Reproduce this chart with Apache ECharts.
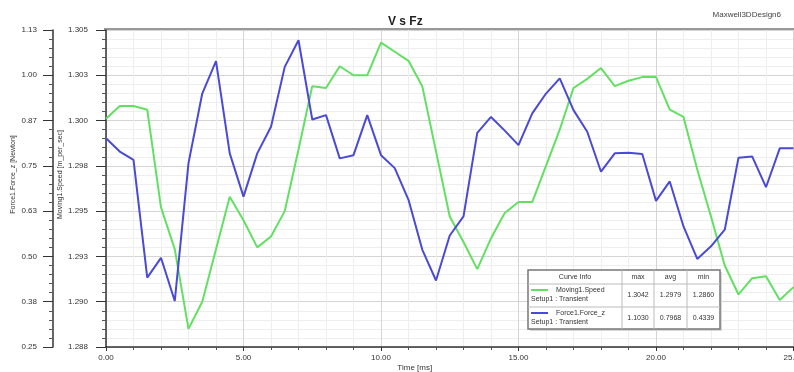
<!DOCTYPE html>
<html>
<head>
<meta charset="utf-8">
<script src="https://cdn.jsdelivr.net/npm/echarts@6/dist/echarts.min.js"></script>
<style>
  html, body { margin: 0; padding: 0; background: #fff; }
  #chart { width: 794px; height: 372px; }
</style>
</head>
<body>
<div id="chart"></div>
<script>
// time samples [ms]
var times = [0, 0.5, 1, 1.5, 2, 2.5, 3, 3.5, 4, 4.5, 5, 5.5, 6, 6.5, 7, 7.5, 8, 8.5, 9, 9.5,
    10, 10.5, 11, 11.5, 12, 12.5, 13, 13.5, 14, 14.5, 15, 15.5, 16, 16.5, 17, 17.5, 18, 18.5, 19, 19.5,
    20, 20.5, 21, 21.5, 22, 22.5, 23, 23.5, 24, 24.5, 25];

// Moving1.Speed [m_per_sec]
var speedValues = [1.3001, 1.3008, 1.3008, 1.3006, 1.2952, 1.2929, 1.2885, 1.2900, 1.2929, 1.2958,
    1.2945, 1.2930, 1.2936, 1.2950, 1.2984, 1.3019, 1.3018, 1.3030, 1.3025, 1.3025,
    1.3043, 1.3038, 1.3033, 1.3019, 1.2983, 1.2947, 1.2933, 1.2918, 1.2935, 1.2949,
    1.2955, 1.2955, 1.2975, 1.2995, 1.3018, 1.3023, 1.3029, 1.3019, 1.3022, 1.3024,
    1.3024, 1.3006, 1.3002, 1.2973, 1.2947, 1.2920, 1.2904, 1.2913, 1.2914, 1.2901, 1.2908];

// Force1.Force_z [Newton]
var forceValues = [0.831, 0.794, 0.771, 0.444, 0.499, 0.379, 0.762, 0.955, 1.045, 0.789,
    0.669, 0.789, 0.863, 1.029, 1.103, 0.883, 0.895, 0.775, 0.784, 0.895,
    0.784, 0.748, 0.660, 0.522, 0.436, 0.561, 0.614, 0.846, 0.890, 0.852,
    0.812, 0.900, 0.955, 0.997, 0.909, 0.849, 0.738, 0.789, 0.791, 0.787,
    0.657, 0.711, 0.586, 0.496, 0.531, 0.577, 0.777, 0.780, 0.695, 0.803, 0.803];

// tick labels as printed on the two y axes
var speedTickLabels = ['1.288', '1.290', '1.293', '1.295', '1.298', '1.300', '1.303', '1.305'];
var forceTickLabels = ['0.25', '0.38', '0.50', '0.63', '0.75', '0.87', '1.00', '1.13'];

// curve info table
var curveNames = ['Moving1.Speed', 'Force1.Force_z'];
var curveSetups = ['Setup1 : Transient', 'Setup1 : Transient'];
var curveMax = ['1.3042', '1.1030'];
var curveAvg = ['1.2979', '0.7968'];
var curveMin = ['1.2860', '0.4339'];
var curveColors = ['#62e062', '#4a4ad6'];

var speedStep = 0.0025;
var speedMin = 1.2875;
var forceStep = 0.88 / 7;
var forceMin = 2 * forceStep;

function pairs(xs, ys) {
    return xs.map(function (x, i) { return [x, ys[i]]; });
}

var labelFont = { fontSize: 8, color: '#333', fontFamily: 'Liberation Sans, Arial, sans-serif' };

// legend table built as graphic elements
function buildCurveInfo() {
    var x0 = 528, y0 = 270, w = 192, h = 59;
    var cols = [528, 622, 654, 687, 720];
    var rows = [270, 284, 307, 329];
    var els = [];
    els.push({ type: 'rect', shape: { x: x0 + 2, y: y0 + 2, width: w, height: h },
        style: { fill: '#d8d8d8' }, z: 100 });
    els.push({ type: 'rect', shape: { x: x0, y: y0, width: w, height: h },
        style: { fill: '#fff', stroke: '#777', lineWidth: 1.5 }, z: 101 });
    for (var c = 1; c < cols.length - 1; c++) {
        els.push({ type: 'line', shape: { x1: cols[c], y1: y0, x2: cols[c], y2: y0 + h },
            style: { stroke: '#bbb', lineWidth: 1 }, z: 102 });
    }
    for (var r = 1; r < rows.length - 1; r++) {
        els.push({ type: 'line', shape: { x1: x0, y1: rows[r], x2: x0 + w, y2: rows[r] },
            style: { stroke: '#bbb', lineWidth: 1 }, z: 102 });
    }
    var hdr = ['Curve Info', 'max', 'avg', 'min'];
    for (var k = 0; k < 4; k++) {
        els.push({ type: 'text', z: 103, style: { text: hdr[k], x: (cols[k] + cols[k + 1]) / 2, y: (rows[0] + rows[1]) / 2,
            align: 'center', verticalAlign: 'middle', fontSize: 7, fill: '#333', fontFamily: 'Liberation Sans' } });
    }
    for (var i = 0; i < 2; i++) {
        var top = rows[i + 1], bot = rows[i + 2], mid = (top + bot) / 2;
        els.push({ type: 'line', z: 103, shape: { x1: 531, y1: top + 6, x2: 548, y2: top + 6 },
            style: { stroke: curveColors[i], lineWidth: 2 } });
        els.push({ type: 'text', z: 103, style: { text: curveNames[i], x: 556, y: top + 6,
            verticalAlign: 'middle', fontSize: 7, fill: '#333', fontFamily: 'Liberation Sans' } });
        els.push({ type: 'text', z: 103, style: { text: curveSetups[i], x: 531, y: top + 15,
            verticalAlign: 'middle', fontSize: 7, fill: '#333', fontFamily: 'Liberation Sans' } });
        var vals = [curveMax[i], curveAvg[i], curveMin[i]];
        for (var j = 0; j < 3; j++) {
            els.push({ type: 'text', z: 103, style: { text: vals[j], x: (cols[j + 1] + cols[j + 2]) / 2, y: mid,
                align: 'center', verticalAlign: 'middle', fontSize: 7, fill: '#333', fontFamily: 'Liberation Sans' } });
        }
    }
    return els;
}

var chart = echarts.init(document.getElementById('chart'), null, { renderer: 'canvas' });

var option = {
    animation: false,
    backgroundColor: '#fff',
    title: {
        text: 'V s Fz',
        left: 383,
        top: 11,
        textStyle: { fontSize: 12, fontWeight: 'bold', color: '#222', fontFamily: 'Liberation Sans' }
    },
    grid: { left: 106, right: 0.5, top: 30, bottom: 25, containLabel: false, outerBoundsMode: 'none' },
    xAxis: {
        type: 'value',
        min: 0,
        max: 25,
        interval: 5,
        name: 'Time [ms]',
        nameLocation: 'middle',
        nameGap: 17,
        nameMoveOverlap: false,
        nameTextStyle: { fontSize: 8, color: '#333', padding: [0, 70, 0, 0] },
        axisLine: { show: true, lineStyle: { color: '#333', width: 1.5 } },
        axisTick: { show: true, length: 4, lineStyle: { color: '#333' } },
        minorTick: { show: true, splitNumber: 5, length: 3, lineStyle: { color: '#555' } },
        axisLabel: Object.assign({ margin: 7, formatter: function (v) { return v.toFixed(2); } }, labelFont),
        splitLine: { show: true, lineStyle: { color: '#d4d4d4', width: 1 } },
        minorSplitLine: { show: true, lineStyle: { color: '#eeeeee', width: 1 } }
    },
    yAxis: [{
        type: 'value',
        position: 'left',
        min: speedMin,
        max: 1.305,
        interval: speedStep,
        name: 'Moving1.Speed [m_per_sec]',
        nameLocation: 'middle',
        nameGap: 42,
        nameMoveOverlap: false,
        nameTextStyle: { fontSize: 7, color: '#333', padding: [0, 0, 0, 28] },
        axisLine: { show: true, lineStyle: { color: '#333', width: 1.5 } },
        axisTick: { show: true, length: 10, lineStyle: { color: '#333' } },
        minorTick: { show: true, splitNumber: 5, length: 4, lineStyle: { color: '#555' } },
        axisLabel: Object.assign({ margin: 18, formatter: function (v) {
            return speedTickLabels[Math.round((v - speedMin) / speedStep)];
        } }, labelFont),
        splitLine: { show: true, lineStyle: { color: '#d4d4d4', width: 1 } },
        minorSplitLine: { show: true, lineStyle: { color: '#eeeeee', width: 1 } }
    }, {
        type: 'value',
        position: 'left',
        offset: 53,
        min: forceMin,
        max: 9 * forceStep,
        interval: forceStep,
        name: 'Force1.Force_z [Newton]',
        nameLocation: 'middle',
        nameGap: 36,
        nameMoveOverlap: false,
        nameTextStyle: { fontSize: 7, color: '#333', padding: [0, 0, 0, 28] },
        axisLine: { show: true, lineStyle: { color: '#333', width: 1.5 } },
        axisTick: { show: true, length: 10, lineStyle: { color: '#333' } },
        minorTick: { show: true, splitNumber: 5, length: 4, lineStyle: { color: '#555' } },
        axisLabel: Object.assign({ margin: 16, formatter: function (v) {
            return forceTickLabels[Math.round((v - forceMin) / forceStep)];
        } }, labelFont),
        splitLine: { show: false }
    }],
    series: [{
        name: 'Moving1.Speed',
        type: 'line',
        yAxisIndex: 0,
        showSymbol: false,
        lineStyle: { color: curveColors[0], width: 2 },
        data: pairs(times, speedValues)
    }, {
        name: 'Force1.Force_z',
        type: 'line',
        yAxisIndex: 1,
        showSymbol: false,
        lineStyle: { color: curveColors[1], width: 2 },
        data: pairs(times, forceValues)
    }],
    graphic: [{
        type: 'line',
        shape: { x1: 104, y1: 29, x2: 794, y2: 29 },
        style: { stroke: '#999', lineWidth: 2 }
    }, {
        type: 'text',
        style: { text: 'Maxwell3DDesign6', x: 781, y: 15, align: 'right', verticalAlign: 'middle',
            fontSize: 8, fill: '#444', fontFamily: 'Liberation Sans' }
    }].concat(buildCurveInfo())
};

chart.setOption(option);
</script>
</body>
</html>
